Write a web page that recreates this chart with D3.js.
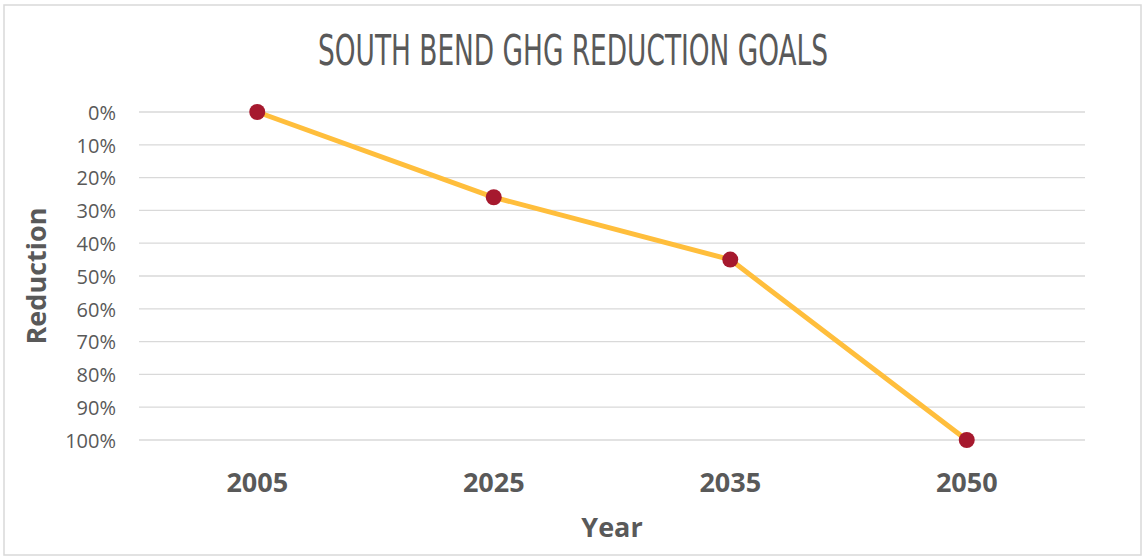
<!DOCTYPE html>
<html>
<head>
<meta charset="utf-8">
<script src="https://cdn.jsdelivr.net/npm/d3@7"></script>
<style>
  html, body { margin: 0; padding: 0; background: #fff; }
  svg { display: block; }
</style>
</head>
<body>
<svg id="chart" width="1142" height="557"></svg>
<script>
// GHG reduction targets relative to the 2005 baseline
const years = ["2005", "2025", "2035", "2050"];
const reductions = [0, 0.26, 0.45, 1.0];
const yTicks = [0, 0.1, 0.2, 0.3, 0.4, 0.5, 0.6, 0.7, 0.8, 0.9, 1.0];

const svg = d3.select("#chart");
const plot = { left: 139, right: 1085, top: 112, bottom: 440 };
const textColor = "#595959";
const labelFont = "'Open Sans', 'Liberation Sans', sans-serif";

// Chart area border
svg.append("rect")
  .attr("x", 4).attr("y", 5)
  .attr("width", 1137).attr("height", 550)
  .attr("fill", "#fff")
  .attr("stroke", "#d9d9d9")
  .attr("stroke-width", 1.5);

const x = d3.scaleBand().domain(years).range([plot.left, plot.right]);
const y = d3.scaleLinear().domain([0, 1]).range([plot.top, plot.bottom]);

// Horizontal gridlines
svg.append("g")
  .selectAll("line")
  .data(yTicks)
  .join("line")
  .attr("x1", plot.left).attr("x2", plot.right)
  .attr("y1", d => y(d)).attr("y2", d => y(d))
  .attr("stroke", "#d9d9d9")
  .attr("stroke-width", 1.3);

// Y axis (percent, 0% at top)
const yAxis = svg.append("g")
  .attr("transform", `translate(${plot.left - 23},0)`)
  .call(d3.axisLeft(y).tickValues(yTicks).tickFormat(d3.format(".0%")).tickSize(0).tickPadding(0));
yAxis.select(".domain").remove();
yAxis.selectAll("text")
  .attr("fill", textColor)
  .attr("font-family", labelFont)
  .attr("font-size", 20)
  .attr("dy", "0.36em");

// X axis (years)
const xAxis = svg.append("g")
  .attr("transform", `translate(0,${plot.bottom})`)
  .call(d3.axisBottom(x).tickSize(0).tickPadding(0));
xAxis.select(".domain").remove();
xAxis.selectAll("text")
  .attr("fill", textColor)
  .attr("font-family", labelFont)
  .attr("font-weight", "bold")
  .attr("font-size", 27)
  .attr("dy", null)
  .attr("y", 52);

// Series line
const line = d3.line()
  .x((d, i) => x(years[i]) + x.bandwidth() / 2)
  .y(d => y(d));

svg.append("path")
  .datum(reductions)
  .attr("d", line)
  .attr("fill", "none")
  .attr("stroke", "#FFBE3C")
  .attr("stroke-width", 5)
  .attr("stroke-linejoin", "round")
  .attr("stroke-linecap", "round");

// Markers
svg.append("g")
  .selectAll("circle")
  .data(reductions)
  .join("circle")
  .attr("cx", (d, i) => x(years[i]) + x.bandwidth() / 2)
  .attr("cy", d => y(d))
  .attr("r", 8)
  .attr("fill", "#A6192E");

// Title
svg.append("text")
  .attr("x", 573).attr("y", 65)
  .attr("text-anchor", "middle")
  .attr("fill", textColor)
  .attr("font-family", "'Liberation Sans Narrow', 'DejaVu Sans Condensed', 'Liberation Sans', sans-serif")
  .attr("font-size", 42)
  .attr("textLength", 510)
  .attr("lengthAdjust", "spacingAndGlyphs")
  .text("SOUTH BEND GHG REDUCTION GOALS");

// Axis titles
svg.append("text")
  .attr("x", 612).attr("y", 537)
  .attr("text-anchor", "middle")
  .attr("fill", textColor)
  .attr("font-family", labelFont)
  .attr("font-weight", "bold")
  .attr("font-size", 27)
  .text("Year");

svg.append("text")
  .attr("transform", "translate(46,276) rotate(-90)")
  .attr("text-anchor", "middle")
  .attr("fill", textColor)
  .attr("font-family", labelFont)
  .attr("font-weight", "bold")
  .attr("font-size", 27)
  .text("Reduction");
</script>
</body>
</html>
